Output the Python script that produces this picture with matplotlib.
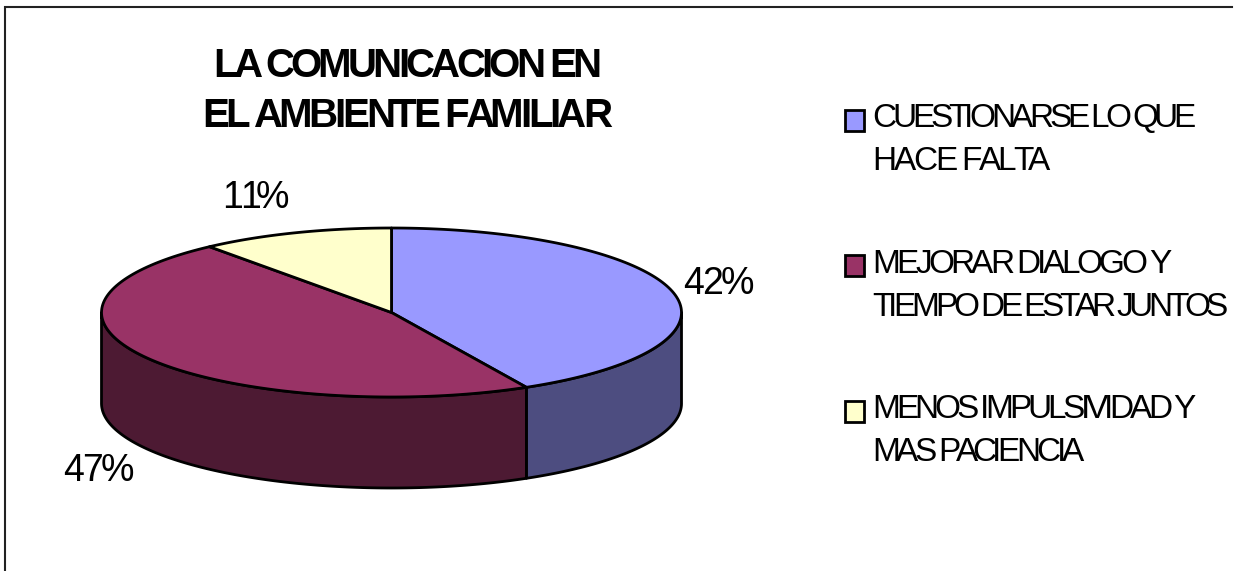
import numpy as np
import matplotlib
matplotlib.use('Agg')
import matplotlib.pyplot as plt
from matplotlib.patches import Polygon, Rectangle
from matplotlib.text import Text
from matplotlib.transforms import Bbox

plt.rcParams['font.family'] = ['Liberation Sans', 'DejaVu Sans']

values = [42.3, 46.9, 10.8]
top_colors = ['#9999FF', '#993366', '#FFFFCC']
side_colors = ['#4D4D80', '#4D1A33', '#808066']
pct_labels = ['42%', '47%', '11%']
legend_lines = [['CUESTIONARSE LO QUE', 'HACE FALTA'],
                ['MEJORAR DIALOGO Y', 'TIEMPO DE ESTAR JUNTOS'],
                ['MENOS IMPULSIVIDAD Y', 'MAS PACIENCIA']]
title_lines = ['LA COMUNICACION EN', 'EL AMBIENTE FAMILIAR']

# layout in pixels
cx, cy = 391.5, 312.5
rx, ry = 290, 84.5
depth = 91


class TightText(Text):
    """one string, drawn with its letters pushed together to a given width.
    x is the right end of the string"""
    def __init__(self, x, y, s, width, **kw):
        super().__init__(x, y, s, va='baseline', ha='right', color='black', **kw)
        self.width = width

    def get_window_extent(self, renderer=None, dpi=None):
        b = super().get_window_extent(renderer, dpi)
        return Bbox.from_extents(b.x1 - self.width, b.y0, b.x1, b.y1)

    def draw(self, renderer):
        s = self.get_text()
        prop = self.get_fontproperties()
        px, py = self.get_transform().transform((self.get_position()))
        px = px - self.width
        py = renderer.height - py
        adv = [renderer.get_text_width_height_descent(s[:k], prop, False)[0] if k else 0
               for k in range(len(s) + 1)]
        track = (self.width - adv[-1]) / (len(s) - 1)
        gc = renderer.new_gc()
        gc.set_foreground('black')
        for k, ch in enumerate(s):
            if ch != ' ':
                renderer.draw_text(gc, px + adv[k] + k * track, py, ch, prop, 0)
        gc.restore()


fig = plt.figure(figsize=(12.41, 5.71), dpi=100)
ax = fig.add_axes([0, 0, 1, 1])
ax.set_xlim(0, 1241)
ax.set_ylim(571, 0)
ax.axis('off')


def put(x, y, s, width, **kw):
    ax.add_artist(TightText(x + width, y, s, width, transform=ax.transData, **kw))


def arc(a0, a1):
    a = np.radians(np.linspace(a0, a1, 120))
    return cx + rx * np.sin(a), cy - ry * np.cos(a)


# frame, only top and left show
ax.plot([5, 5, 1232], [571, 7, 7], color='#222222', lw=1.5, solid_joinstyle='miter')

angles = np.concatenate([[0], np.cumsum(values) / np.sum(values) * 360])

# side walls first
for i in range(len(values)):
    a0, a1 = max(angles[i], 90), min(angles[i + 1], 270)
    if a1 <= a0:
        continue
    x, y = arc(a0, a1)
    pts = np.r_[np.c_[x, y], np.c_[x[::-1], y[::-1] + depth]]
    ax.add_patch(Polygon(pts, closed=True, fc=side_colors[i], ec='black', lw=2, joinstyle='round'))

# top wedges
for i in range(len(values)):
    x, y = arc(angles[i], angles[i + 1])
    pts = np.r_[[[cx, cy]], np.c_[x, y]]
    ax.add_patch(Polygon(pts, closed=True, fc=top_colors[i], ec='black', lw=2, joinstyle='round'))

# percent labels
put(683, 294, pct_labels[0], 71, fontsize=27)
put(63, 481, pct_labels[1], 71, fontsize=27)
put(222, 208, pct_labels[2], 67, fontsize=27)

# title
put(213, 77, title_lines[0], 388, fontsize=29, fontweight='bold')
put(202, 127, title_lines[1], 410, fontsize=29, fontweight='bold')

# legend
box_y = [110, 255, 401]
base_y = [[127, 170], [273, 316], [418, 461]]
text_w = [[324, 176], [299, 356], [323, 212]]
for i in range(3):
    ax.add_patch(Rectangle((845, box_y[i]), 19, 21, fc=top_colors[i], ec='black', lw=2))
    for j in range(2):
        put(872, base_y[i][j], legend_lines[i][j], text_w[i][j], fontsize=24)

fig.savefig('out.png', dpi=100)
